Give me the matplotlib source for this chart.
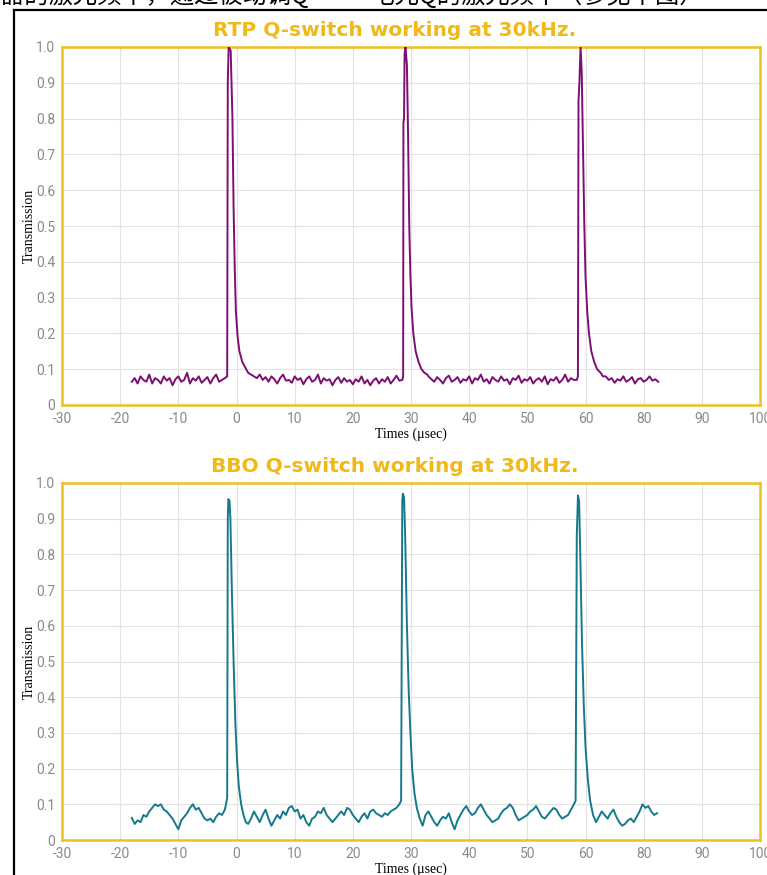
import numpy as np
import matplotlib
matplotlib.use("Agg")
import matplotlib.pyplot as plt
from matplotlib.lines import Line2D

# tick labels as printed on the original (note: "70" is missing there)
x_ticks = [-30, -20, -10, 0, 10, 20, 30, 40, 50, 60, 70, 80, 90]
x_labels = ["-30", "-20", "-10", "0", "10", "20", "30", "40", "50", "60", "80", "90", "100"]
y_ticks = [0, 0.1, 0.2, 0.3, 0.4, 0.5, 0.6, 0.7, 0.8, 0.9, 1.0]
y_labels = ["0", "0.1", "0.2", "0.3", "0.4", "0.5", "0.6", "0.7", "0.8", "0.9", "1.0"]

titles = ["RTP Q-switch working at 30kHz.", "BBO Q-switch working at 30kHz."]
top_text = "器的激光频率，通过被动调Q　–　电光Q的激光频率（参见下图）"

# ---- RTP trace: baseline pieces sampled every 0.5 us, plus the three pulses
rtp_seg_start = [-18.0, 3.0, 33.0, 63.5]
rtp_seg_vals = [
    [0.065, 0.075, 0.06, 0.08, 0.07, 0.065, 0.085, 0.06, 0.075, 0.07, 0.06, 0.08, 0.068, 0.075, 0.055, 0.072, 0.08,
     0.065, 0.07, 0.09, 0.06, 0.075, 0.068, 0.08, 0.062, 0.07, 0.078, 0.06, 0.075, 0.085, 0.065, 0.07, 0.075],
    [0.08, 0.075, 0.085, 0.07, 0.078, 0.065, 0.08, 0.072, 0.06, 0.075, 0.085, 0.068, 0.07, 0.062, 0.08, 0.07, 0.075,
     0.058, 0.072, 0.08, 0.065, 0.07, 0.085, 0.06, 0.075, 0.068, 0.072, 0.055, 0.07, 0.078, 0.062, 0.075, 0.065, 0.07,
     0.058, 0.072, 0.065, 0.08, 0.06, 0.07, 0.055, 0.068, 0.075, 0.06, 0.072, 0.065, 0.078, 0.06, 0.07, 0.082, 0.068],
    [0.08, 0.072, 0.065, 0.078, 0.07, 0.06, 0.075, 0.082, 0.065, 0.07, 0.078, 0.062, 0.072, 0.068, 0.08, 0.06, 0.075,
     0.07, 0.085, 0.065, 0.072, 0.06, 0.078, 0.07, 0.065, 0.08, 0.068, 0.072, 0.058, 0.075, 0.07, 0.082, 0.062, 0.072,
     0.068, 0.078, 0.06, 0.07, 0.075, 0.065, 0.08, 0.058, 0.072, 0.068, 0.078, 0.062, 0.07, 0.085, 0.065, 0.075, 0.07],
    [0.08, 0.07, 0.075, 0.062, 0.072, 0.068, 0.08, 0.065, 0.07, 0.078, 0.06, 0.072, 0.075, 0.065, 0.07, 0.08, 0.068,
     0.072, 0.065],
]
rtp_pulse_t = [
    [-1.6, -1.5, -1.35, -1.0, -0.7, -0.5, -0.3, -0.1, 0.2, 0.5, 1.0, 1.5, 2.0, 2.5],
    [28.5, 28.65, 28.7, 28.8, 28.9, 29.05, 29.3, 29.5, 29.7, 29.9, 30.1, 30.4, 30.8, 31.3, 31.8, 32.3, 32.8],
    [58.5, 58.7, 58.75, 58.8, 58.95, 59.15, 59.35, 59.6, 59.8, 60.0, 60.3, 60.6, 61.0, 61.5, 62.0, 62.6, 63.0],
]
rtp_pulse_v = [
    [0.08, 0.9, 1.0, 0.99, 0.8, 0.55, 0.38, 0.26, 0.19, 0.15, 0.12, 0.105, 0.09, 0.085],
    [0.07, 0.08, 0.79, 0.8, 0.98, 1.0, 0.95, 0.75, 0.5, 0.36, 0.27, 0.2, 0.15, 0.12, 0.1, 0.09, 0.085],
    [0.07, 0.08, 0.5, 0.85, 0.9, 1.0, 0.93, 0.7, 0.5, 0.36, 0.26, 0.2, 0.15, 0.12, 0.1, 0.09, 0.08],
]

# ---- BBO trace
bbo_seg_start = [-18.0, 2.5, 32.5, 62.3]
bbo_seg_vals = [
    [0.062, 0.045, 0.055, 0.05, 0.07, 0.065, 0.08, 0.09, 0.1, 0.095, 0.1, 0.085, 0.08, 0.07, 0.06, 0.045, 0.03,
     0.055, 0.065, 0.075, 0.09, 0.1, 0.085, 0.09, 0.075, 0.06, 0.055, 0.06, 0.05, 0.065, 0.075, 0.07, 0.085],
    [0.06, 0.08, 0.065, 0.05, 0.07, 0.085, 0.06, 0.04, 0.055, 0.07, 0.06, 0.08, 0.07, 0.09, 0.095, 0.08, 0.085,
     0.06, 0.07, 0.05, 0.04, 0.06, 0.065, 0.08, 0.075, 0.09, 0.07, 0.06, 0.05, 0.06, 0.07, 0.08, 0.07, 0.09, 0.085,
     0.07, 0.06, 0.05, 0.065, 0.075, 0.06, 0.08, 0.085, 0.075, 0.07, 0.065, 0.075, 0.07, 0.08, 0.085, 0.09, 0.1],
    [0.07, 0.08, 0.065, 0.05, 0.04, 0.055, 0.065, 0.06, 0.075, 0.05, 0.03, 0.055, 0.07, 0.085, 0.095, 0.08, 0.07,
     0.075, 0.09, 0.1, 0.085, 0.07, 0.06, 0.05, 0.055, 0.06, 0.075, 0.085, 0.09, 0.1, 0.09, 0.07, 0.055, 0.06, 0.065,
     0.07, 0.08, 0.085, 0.095, 0.08, 0.065, 0.06, 0.07, 0.08, 0.09, 0.085, 0.07, 0.06, 0.065, 0.07, 0.085, 0.1],
    [0.065, 0.08, 0.07, 0.06, 0.075, 0.085, 0.065, 0.05, 0.04, 0.045, 0.055, 0.06, 0.05, 0.065, 0.08, 0.1, 0.09,
     0.095, 0.08, 0.07, 0.075],
]
bbo_pulse_t = [
    [-1.8, -1.6, -1.5, -1.4, -1.2, -1.05, -0.8, -0.5, -0.2, 0.1, 0.4, 0.8, 1.2, 1.6, 2.0],
    [28.3, 28.5, 28.6, 28.8, 29.0, 29.3, 29.6, 29.9, 30.2, 30.6, 31.0, 31.5, 32.0],
    [58.3, 58.5, 58.7, 58.9, 59.1, 59.4, 59.7, 60.0, 60.4, 60.8, 61.3, 61.8],
]
bbo_pulse_v = [
    [0.1, 0.12, 0.9, 0.955, 0.95, 0.9, 0.7, 0.5, 0.33, 0.22, 0.15, 0.1, 0.07, 0.05, 0.045],
    [0.11, 0.95, 0.97, 0.96, 0.85, 0.6, 0.42, 0.3, 0.2, 0.13, 0.09, 0.06, 0.04],
    [0.11, 0.85, 0.965, 0.95, 0.8, 0.55, 0.38, 0.26, 0.17, 0.11, 0.07, 0.05],
]


def build_trace(seg_start, seg_vals, pulse_t, pulse_v):
    t, v = [], []
    for i in range(len(seg_start)):
        vals = seg_vals[i]
        t.extend(seg_start[i] + 0.5 * np.arange(len(vals)))
        v.extend(vals)
        if i < len(pulse_t):
            t.extend(pulse_t[i])
            v.extend(pulse_v[i])
    return np.array(t), np.array(v)


gold = "#efc11f"
title_gold = "#f0b915"

fig = plt.figure(figsize=(7.67, 8.75), dpi=100)
ax1 = fig.add_axes([62 / 767, 1 - 405 / 875, 698 / 767, 358 / 875])
ax2 = fig.add_axes([62 / 767, 1 - 840 / 875, 698 / 767, 357 / 875])

traces = [build_trace(rtp_seg_start, rtp_seg_vals, rtp_pulse_t, rtp_pulse_v),
          build_trace(bbo_seg_start, bbo_seg_vals, bbo_pulse_t, bbo_pulse_v)]
colors = ["#7c0e74", "#15798b"]

for ax, (t, v), c in zip([ax1, ax2], traces, colors):
    ax.plot(t, v, color=c, lw=1.4, zorder=3)
    ax.set_xlim(-30, 90)
    ax.set_ylim(0, 1.0)
    ax.set_xticks(x_ticks)
    ax.set_xticklabels(x_labels)
    ax.set_yticks(y_ticks)
    ax.set_yticklabels(y_labels)
    ax.grid(color="#e2e2e2", lw=0.8)
    ax.set_axisbelow(True)
    for s in ax.spines.values():
        s.set_color(gold)
        s.set_linewidth(1.8)
    ax.tick_params(length=0, labelcolor="#8a8a8a", labelsize=10, pad=5)
    for lab in ax.get_xticklabels() + ax.get_yticklabels():
        lab.set_family("Roboto")
    ax.set_ylabel("Transmission", family="Liberation Serif", fontsize=10)
    ax.yaxis.set_label_coords(-0.038, 0.5)
    ax.set_xlabel("Times (μsec)", family="Liberation Serif", fontsize=10)
    ax.xaxis.set_label_coords(0.5, -0.064)

fig.text(395 / 767, 1 - 31 / 875, titles[0], color=title_gold, fontsize=14.5,
         fontweight="bold", ha="center", va="center")
fig.text(395 / 767, 1 - 467 / 875, titles[1], color=title_gold, fontsize=14.5,
         fontweight="bold", ha="center", va="center")

# clipped caption line at the very top and the black frame
fig.text(0.0, 1 - 9 / 875, top_text, family=["Noto Sans CJK SC", "DejaVu Sans"],
         fontsize=17.5, ha="left", va="bottom", color="black")
fig.add_artist(Line2D([14 / 767, 1], [1 - 10 / 875, 1 - 10 / 875], transform=fig.transFigure,
                      color="black", lw=1.6))
fig.add_artist(Line2D([14 / 767, 14 / 767], [0, 1 - 10 / 875], transform=fig.transFigure,
                      color="black", lw=1.6))

fig.savefig("out.png", dpi=100)
